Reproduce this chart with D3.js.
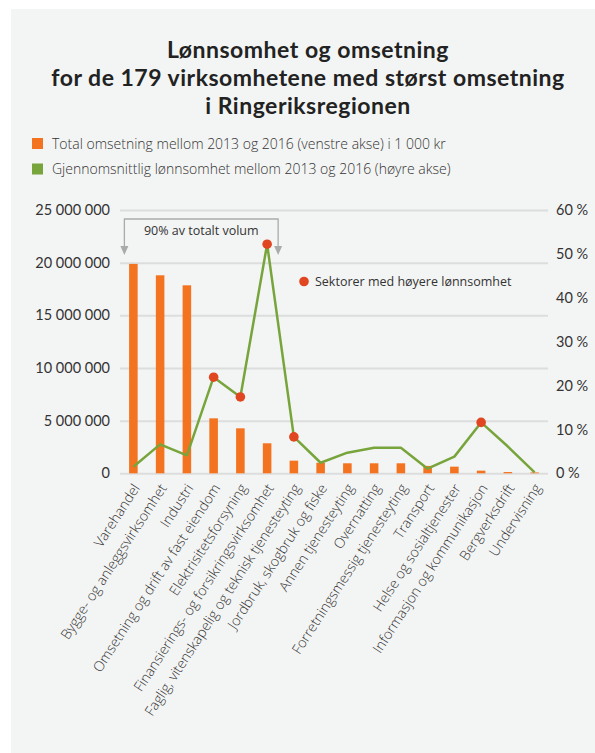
<!DOCTYPE html>
<html>
<head>
<meta charset="utf-8">
<script src="https://cdn.jsdelivr.net/npm/d3@7"></script>
<style>
  body { margin: 0; background: #fff; }
  text { font-family: "Open Sans", Lato, sans-serif; fill: #333; }
</style>
</head>
<body>
<div id="chart"></div>
<script>
// Data
let sectors = [
  'Varehandel', 'Bygge- og anleggsvirksomhet', 'Industri',
  'Omsetning og drift av fast eiendom', 'Elektrisitetsforsyning',
  'Finansierings- og forsikringsvirksomhet',
  'Faglig, vitenskapelig og teknisk tjenesteyting',
  'Jordbruk, skogbruk og fiske', 'Annen tjenesteyting', 'Overnatting',
  'Forretningsmessig tjenesteyting', 'Transport', 'Helse og sosialtjenester',
  'Informasjon og kommunikasjon', 'Bergverksdrift', 'Undervisning'
];
// total turnover, 1 000 kr
let turnover = [19880000, 18800000, 17850000, 5220000, 4270000, 2850000,
  1200000, 1000000, 950000, 950000, 950000, 700000, 630000, 250000, 120000, 80000];
// average profitability, %
let profit = [1.5, 6.6, 4.1, 21.9, 17.4, 52.2, 8.3, 2.4, 4.7, 5.8, 5.8, 1.05, 3.8, 11.6, 6.1, 0.2];
// sectors marked with a red dot
let highProfit = ['Omsetning og drift av fast eiendom', 'Elektrisitetsforsyning',
  'Finansierings- og forsikringsvirksomhet',
  'Faglig, vitenskapelig og teknisk tjenesteyting', 'Informasjon og kommunikasjon'];
let leftTicks = [0, 5000000, 10000000, 15000000, 20000000, 25000000];
let rightTicks = [0, 10, 20, 30, 40, 50, 60];
let titleLines = ['Lønnsomhet og omsetning',
  'for de 179 virksomhetene med størst omsetning', 'i Ringeriksregionen'];
let legendItems = [
  {label: 'Total omsetning mellom 2013 og 2016 (venstre akse) i 1 000 kr', color: '#f47321'},
  {label: 'Gjennomsnittlig lønnsomhet mellom 2013 og 2016 (høyre akse)', color: '#78a43c'}
];

let width = 595, height = 753;
let margin = {top: 210, bottom: 280, left: 120, right: 47};

let svg = d3.select('#chart')
  .append('svg')
  .attr('width', width)
  .attr('height', height);

// panel background
svg.append('rect')
  .attr('x', 11).attr('y', 9)
  .attr('width', width - 11).attr('height', height - 9)
  .attr('fill', '#f3f5f4');

// scales
let xScale = d3.scaleBand()
  .domain(sectors)
  .range([margin.left, width - margin.right])
  .paddingInner(0.68)
  .paddingOuter(0.34);

let yLeft = d3.scaleLinear()
  .domain([0, 25000000])
  .range([height - margin.bottom + 0.3, margin.top]);

let yRight = d3.scaleLinear()
  .domain([0, 60])
  .range([height - margin.bottom + 0.3, margin.top]);

let fmt = d => d3.format(',')(d).replace(/,/g, ' ');

// title
svg.append('g')
  .selectAll('text')
  .data(titleLines)
  .enter()
  .append('text')
  .attr('x', 308)
  .attr('y', (d, i) => 57.5 + i * 28)
  .attr('text-anchor', 'middle')
  .style('font-family', 'Lato, sans-serif')
  .style('font-size', '23px')
  .style('font-weight', 'bold')
  .style('letter-spacing', '0.5px')
  .style('fill', '#222')
  .text(d => d);

// legend
let legend = svg.append('g')
  .selectAll('g')
  .data(legendItems)
  .enter()
  .append('g')
  .attr('transform', (d, i) => `translate(32,${138 + i * 25.5})`);

legend.append('rect')
  .attr('width', 11).attr('height', 11)
  .attr('fill', d => d.color);

legend.append('text')
  .attr('x', 20).attr('y', 10.5)
  .style('font-size', '14px')
  .style('font-weight', '300')
  .text(d => d.label);

// grid + left axis
let leftAxis = svg.append('g')
  .attr('transform', `translate(${margin.left},0)`)
  .call(d3.axisLeft(yLeft).tickValues(leftTicks).tickFormat(fmt)
    .tickSize(-(width - margin.left - margin.right)).tickPadding(10));
leftAxis.select('.domain').remove();
leftAxis.selectAll('line').attr('stroke', '#dcdddd').attr('stroke-width', 2);
leftAxis.selectAll('text')
  .style('font-family', 'Lato, sans-serif')
  .style('font-size', '14.5px')
  .style('fill', '#333');

// right axis
let rightAxis = svg.append('g')
  .attr('transform', `translate(${width - margin.right},0)`)
  .call(d3.axisRight(yRight).tickValues(rightTicks).tickFormat(d => d + ' %')
    .tickSize(0).tickPadding(8));
rightAxis.select('.domain').remove();
rightAxis.selectAll('text')
  .style('font-family', 'Lato, sans-serif')
  .style('font-size', '14.5px')
  .style('fill', '#333');

// bars
svg.append('g')
  .selectAll('rect')
  .data(sectors)
  .enter()
  .append('rect')
  .attr('x', d => xScale(d))
  .attr('y', (d, i) => yLeft(turnover[i]))
  .attr('width', xScale.bandwidth())
  .attr('height', (d, i) => yLeft(0) - yLeft(turnover[i]))
  .attr('fill', '#f47321');

// profitability line
let cx = d => xScale(d) + xScale.bandwidth() / 2;
let line = d3.line()
  .x(d => cx(d))
  .y((d, i) => yRight(profit[i]));

svg.append('path')
  .datum(sectors)
  .attr('d', line)
  .attr('fill', 'none')
  .attr('stroke', '#78a43c')
  .attr('stroke-width', 2.5)
  .attr('stroke-linejoin', 'round');

// red dots
svg.append('g')
  .selectAll('circle')
  .data(sectors.filter(d => highProfit.includes(d)))
  .enter()
  .append('circle')
  .attr('cx', d => cx(d))
  .attr('cy', d => yRight(profit[sectors.indexOf(d)]))
  .attr('r', 4.8)
  .attr('fill', '#e0461f');

// x labels
let xAxis = svg.append('g')
  .attr('transform', `translate(0,${yLeft(0)})`)
  .call(d3.axisBottom(xScale).tickSize(0).tickPadding(0));
xAxis.select('.domain').remove();
xAxis.selectAll('text')
  .style('font-family', '"Open Sans", sans-serif')
  .style('font-size', '14px')
  .style('font-weight', '300')
  .style('fill', '#333')
  .style('text-anchor', 'end')
  .attr('x', 3)
  .attr('y', 12)
  .attr('dy', '0.35em')
  .attr('transform', 'rotate(-57, 3, 12)');

// "90% av totalt volum" bracket
let b1 = cx(sectors[0]) - 9, b2 = cx(sectors[5]) + 11;
let bracket = svg.append('g').attr('stroke', '#aaa').attr('fill', 'none').attr('stroke-width', 1.3);
bracket.append('path')
  .attr('d', `M${b1},248 V219 H${b2} V248`);
[b1, b2].forEach(x => {
  svg.append('path')
    .attr('d', `M${x - 4},246 L${x + 4},246 L${x},255 Z`)
    .attr('fill', '#aaa');
});
svg.append('text')
  .attr('x', (b1 + b2) / 2)
  .attr('y', 235)
  .attr('text-anchor', 'middle')
  .style('font-size', '12.5px')
  .text('90% av totalt volum');

// red dot legend
svg.append('circle')
  .attr('cx', 304).attr('cy', 281.5).attr('r', 4.8)
  .attr('fill', '#e0461f');
svg.append('text')
  .attr('x', 315).attr('y', 286)
  .style('font-size', '12.5px')
  .text('Sektorer med høyere lønnsomhet');
</script>
</body>
</html>
